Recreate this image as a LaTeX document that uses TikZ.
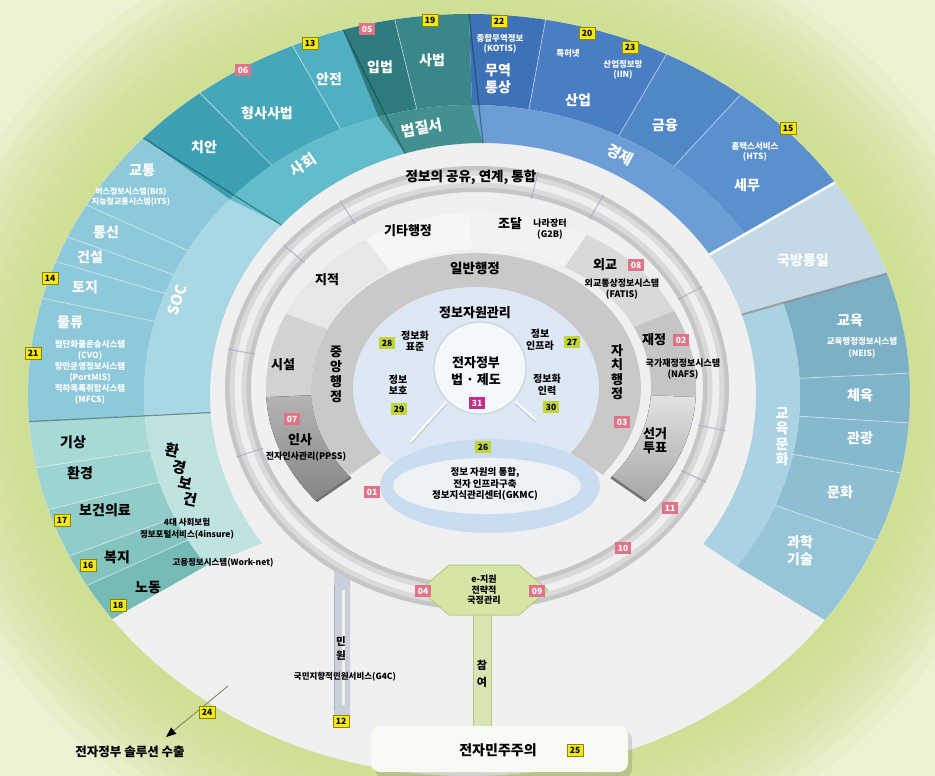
\documentclass[tikz,border=0pt]{standalone}
\usepackage{fontspec}
\setmainfont{Noto Sans CJK KR}
\usetikzlibrary{arrows.meta}

\definecolor{bgpale}{HTML}{EDF2D4}
\definecolor{bgglow}{HTML}{C9DB84}
\definecolor{diskgray}{HTML}{F0F0F0}
\definecolor{soc1}{HTML}{3C9FB2}
\definecolor{soc2}{HTML}{45A7B9}
\definecolor{soc3}{HTML}{50AFC1}
\definecolor{socband}{HTML}{62BCCB}
\definecolor{law1}{HTML}{2E7B7D}
\definecolor{law2}{HTML}{398789}
\definecolor{lawband}{HTML}{42908F}
\definecolor{eco1}{HTML}{3E72B6}
\definecolor{eco2}{HTML}{4A7EC2}
\definecolor{eco3}{HTML}{5087C7}
\definecolor{eco4}{HTML}{5A90CD}
\definecolor{ecoband}{HTML}{6C9DD5}
\definecolor{defc}{HTML}{C4D8E6}
\definecolor{edu1}{HTML}{7BB0C7}
\definecolor{edu2}{HTML}{80B4CA}
\definecolor{edu3}{HTML}{86B9CE}
\definecolor{edu4}{HTML}{8DBED2}
\definecolor{edu5}{HTML}{97C5D8}
\definecolor{eduband}{HTML}{AAD2E2}
\definecolor{infra}{HTML}{8DC9DA}
\definecolor{infraband}{HTML}{A9D8E5}
\definecolor{env1}{HTML}{A7D9D7}
\definecolor{env2}{HTML}{9DD3D0}
\definecolor{env3}{HTML}{91CCC8}
\definecolor{env4}{HTML}{83C4BF}
\definecolor{env5}{HTML}{75BBB5}
\definecolor{envband}{HTML}{BFE3E1}
\definecolor{tubeA}{HTML}{C6C6C6}
\definecolor{tubeB}{HTML}{DADADA}
\definecolor{tubeC}{HTML}{EFEFEF}
\definecolor{tickc}{HTML}{A8A2C4}
\definecolor{dk1}{HTML}{F6F6F6}
\definecolor{dk2}{HTML}{F2F2F2}
\definecolor{dk3}{HTML}{E7E7E7}
\definecolor{dk4}{HTML}{D2D2D2}
\definecolor{dk5a}{HTML}{B4B4B4}
\definecolor{dk5b}{HTML}{858585}
\definecolor{dk6}{HTML}{D9D9D9}
\definecolor{dk7}{HTML}{C5C5C5}
\definecolor{dk8a}{HTML}{E2E2E2}
\definecolor{dk8b}{HTML}{A5A5A5}
\definecolor{ringg}{HTML}{C9C9C9}
\definecolor{bluedisk}{HTML}{DCE8F4}
\definecolor{gkmcring}{HTML}{CADDF0}
\definecolor{gkmcin}{HTML}{EEF1F5}
\definecolor{centerc}{HTML}{F5F8FB}
\definecolor{centeredge}{HTML}{C3CEDA}
\definecolor{hexc}{HTML}{D5E5A5}
\definecolor{hexedge}{HTML}{B9CB84}
\definecolor{stemgray}{HTML}{CAD0D9}
\definecolor{stemedge}{HTML}{A6AEBA}
\definecolor{stemgreen}{HTML}{D8E5B3}
\definecolor{stemgedge}{HTML}{B4C58C}
\definecolor{boxc}{HTML}{FAFAF4}
\definecolor{arrowc}{HTML}{7F8C5C}
\definecolor{badgepink}{HTML}{E07486}
\definecolor{badgeyel}{HTML}{F4E817}
\definecolor{badgeyeledge}{HTML}{8F8300}
\definecolor{badgegrn}{HTML}{C3D43A}
\definecolor{badgemag}{HTML}{C22F86}

% annular piece between two ellipses (centre x, x radius, y radius each), centre y = 395
\newcommand\ringsec[9]{\fill[#1] plot[domain=#2:#3,samples=36] ({#4+#5*cos(\x)},{395-#6*sin(\x)}) -- plot[domain=#3:#2,samples=36] ({#7+#8*cos(\x)},{395-#9*sin(\x)}) -- cycle;}
\newcommand\itemsec[3]{\ringsec{#1}{#2}{#3}{469}{441}{381}{472}{328}{290}}
\newcommand\catsec[3]{\ringsec{#1}{#2}{#3}{472}{328}{290}{483}{273}{252}}
\newcommand\wholesec[3]{\ringsec{#1}{#2}{#3}{469}{441}{381}{483}{273}{252}}
\newcommand\radline[8]{\draw[#1] ({#3+#4*cos(#2)},{395-#5*sin(#2)}) -- ({#6+#7*cos(#2)},{395-#8*sin(#2)});}
\newcommand\itemline[2]{\radline{#1}{#2}{469}{441}{381}{472}{328}{290}}
\newcommand\catline[2]{\radline{#1}{#2}{469}{441}{381}{483}{273}{252}}
% department ring pieces
\newcommand\deptsec[3]{\fill[#1] plot[domain=#2:#3,samples=30] ({481+215*cos(\x)},{388-176*sin(\x)}) -- plot[domain=#3:#2,samples=30] ({481+170*cos(\x)},{388-139*sin(\x)}) -- cycle;}
\newcommand\tubetick[1]{\draw[tickc, line width=0.9pt, opacity=0.8] ({477+225*cos(#1)},{388-195*sin(#1)}) -- ({477+253*cos(#1)},{388-223*sin(#1)});}

\tikzset{
  wl/.style={text=white, font=\bfseries\fontsize{14}{17}\selectfont, inner sep=0pt, align=center},
  catw/.style={text=white, font=\bfseries\fontsize{15}{17}\selectfont, inner sep=0pt},
  bl/.style={text=black, font=\bfseries\fontsize{13}{15}\selectfont, inner sep=0pt, align=center},
  smw/.style={text=white, font=\bfseries\fontsize{8.5}{10.5}\selectfont, inner sep=0pt, align=center},
  smb/.style={text=black, font=\bfseries\fontsize{9}{11.5}\selectfont, inner sep=0pt, align=center},
  badge/.style={inner sep=0pt, minimum width=16pt, minimum height=12pt, font=\bfseries\fontsize{8.5}{8.5}\selectfont},
  pk/.style={badge, fill=badgepink, text=white},
  yb/.style={badge, fill=badgeyel, text=black, draw=badgeyeledge, line width=0.6pt},
  gb/.style={badge, fill=badgegrn, text=black},
  mb/.style={badge, fill=badgemag, text=white},
  itemsepline/.style={white, opacity=0.5, line width=0.8pt},
  catsepline/.style={black!60!teal, opacity=0.45, line width=1.2pt}
}

\begin{document}
\begin{tikzpicture}[x=1pt,y=-1pt]
\useasboundingbox (0,0) rectangle (935,776);

% backdrop with a soft green glow round the wheel
\fill[bgpale] (0,0) rectangle (935,776);
\foreach \d in {110,96,84,72,60,48,36,24,12}
  \fill[bgglow, opacity=0.14] (469,395) ellipse[x radius={(441+\d)*1pt}, y radius={(381+\d)*1pt}];
\fill[diskgray] (469,395) ellipse[x radius=441pt, y radius=381pt];

% outer wheel: society, law, economy, defence, education, infrastructure, environment
\itemsec{soc1}{127.6}{137.6}
\itemsec{soc2}{113.6}{127.6}
\itemsec{soc3}{106.6}{113.6}
\catsec{socband}{106.6}{137.6}
\itemsec{law1}{99.7}{106.6}
\itemsec{law2}{90}{99.7}
\catsec{lawband}{90}{106.6}
\itemsec{eco1}{80}{90}
\itemsec{eco2}{63.4}{80}
\itemsec{eco3}{52}{63.4}
\itemsec{eco4}{33.9}{52}
\catsec{ecoband}{33.9}{90}
\wholesec{defc}{18.6}{33.9}
\itemsec{edu1}{3.3}{18.6}
\itemsec{edu2}{-4.2}{3.3}
\itemsec{edu3}{-11.8}{-4.2}
\itemsec{edu4}{-22.4}{-11.8}
\itemsec{edu5}{-36.2}{-22.4}
\catsec{eduband}{-36.2}{18.6}
\itemsec{infra}{137.6}{184}
\catsec{infraband}{137.6}{184}
\itemsec{env1}{184}{191}
\itemsec{env2}{191}{197.5}
\itemsec{env3}{197.5}{205}
\itemsec{env4}{205}{210}
\itemsec{env5}{210}{216}
\catsec{envband}{184}{216}

% separators
\foreach \a in {113.6,127.6,99.7,80,63.4,52,3.3,-4.2,-11.8,-22.4,150.1,155.5,159.5,165.3,191,197.5,205,210}
  {\itemline{itemsepline}{\a}}
\foreach \a in {137.6,106.6,90,184}
  {\catline{catsepline}{\a}}
\catline{white, line width=2.5pt}{33.9}
\catline{black!45, line width=2pt, opacity=0.7}{18.6}

% stems below the tube
\fill[stemgray, rounded corners=6pt] (334,560) rectangle (350,718);
\draw[stemedge, line width=1pt] (334.5,585) -- (334.5,710);
\draw[white, line width=3pt, opacity=0.7] (343,590) -- (343,705);
\fill[stemgreen] (473,600) rectangle (492,730);
\draw[stemgedge, line width=1pt] (473.5,615) -- (473.5,728) (491.5,615) -- (491.5,728);

% tube ring
\draw[line width=26pt, tubeA] (477,388) ellipse[x radius=239pt, y radius=209pt];
\draw[line width=17pt, tubeB] (477,388) ellipse[x radius=239pt, y radius=209pt];
\draw[line width=7pt, tubeC] (477,388) ellipse[x radius=239pt, y radius=209pt];
\foreach \a in {122.8,140,170,198,76,60,27,-11,-25}
  {\tubetick{\a}}

% green hexagon on the tube
\draw[fill=hexc, draw=hexedge, line width=1pt] (449,565) -- (519,565) -- (548,590) -- (519,615) -- (449,615) -- (420,590) -- cycle;

% department ring
\deptsec{dk1}{93}{122.5}
\deptsec{dk3}{122.5}{155}
\deptsec{dk4}{155}{183}
\deptsec{top color=dk5a, bottom color=dk5b}{183}{220}
\deptsec{dk2}{60.5}{93}
\deptsec{dk6}{26}{60.5}
\deptsec{dk7}{-3}{26}
\deptsec{top color=dk8a, bottom color=dk8b}{-40}{-3}
\draw[black!55, line width=2.5pt] ({481+215*cos(220)},{388-176*sin(220)}) -- ({481+170*cos(220)},{388-139*sin(220)});
\draw[black!55, line width=2.5pt] ({481+215*cos(-40)},{388-176*sin(-40)}) -- ({481+170*cos(-40)},{388-139*sin(-40)});

% general administration ring
\fill[ringg] plot[domain=-40:220,samples=60] ({476+165*cos(\x)},{388-135*sin(\x)}) -- plot[domain=220:-40,samples=60] ({476+122*cos(\x)},{388-100*sin(\x)}) -- cycle;

% information resources core
\fill[bluedisk] (476,388) ellipse[x radius=123pt, y radius=101pt];
\fill[gkmcring] (490,486) ellipse[x radius=110pt, y radius=47pt];
\fill[gkmcin] (487,486) ellipse[x radius=94pt, y radius=28pt];
\draw[fill=centerc, draw=centeredge, line width=1pt] (480,368) ellipse[x radius=46pt, y radius=46pt];
\draw[centeredge, line width=3.5pt] (446,403) -- (410,443);
\draw[white, line width=2pt] (446,402) -- (410,442);
\draw[centeredge, line width=3.5pt] (516,403) -- (536,421);
\draw[white, line width=2pt] (516,402) -- (536,420);

% e-democracy box
\fill[black, opacity=0.12, rounded corners=9pt] (375,731) rectangle (632,778);
\fill[boxc, rounded corners=9pt] (371,726) rectangle (628,772);

% solution export arrow
\coordinate (exportstart) at (228,686);
\coordinate (exporttip) at (166,737);
\draw[arrowc, line width=0.9pt, -{Triangle[length=10pt,width=8pt,color=black]}] (exportstart) -- (exporttip);

% ---- outer wheel texts
\node[wl] (tchian) at (204,147) {치안};
\node[wl] (thyeong) at (267,113) {형사사법};
\node[wl] (tanjeon) at (329,79) {안전};
\node[wl] (tipbeop) at (380,67) {입법};
\node[wl] (tsabeop) at (432,60) {사법};
\node[wl] (tmuyeok) at (498,79) {무역\\통상};
\node[wl] (tsaneop) at (578,100) {산업};
\node[wl] (tgeumyung) at (665,125) {금융};
\node[wl] (tsemu) at (747,185) {세무};
\node[wl] (tgukbang) at (803,260) {국방통일};
\node[wl] (tgyoyuk) at (850,320) {교육};
\node[wl] (tcheyuk) at (860,395) {체육};
\node[wl] (tgwangwang) at (860,438) {관광};
\node[wl] (tmunhwa) at (840,492) {문화};
\node[wl] (tgwahak) at (800,551) {과학\\기술};
\node[wl] (tgyotong) at (142,170) {교통};
\node[wl] (ttongsin) at (106,232) {통신};
\node[wl] (tgeonseol) at (90,257) {건설};
\node[wl] (ttoji) at (85,287) {토지};
\node[wl] (tmulryu) at (70,322) {물류};
\node[wl, text=black] (tgisang) at (73,442) {기상};
\node[wl, text=black] (thwangyeong) at (80,473) {환경};
\node[wl, text=black] (tbogeon) at (105,510) {보건의료};
\node[wl, text=black] (tbokji) at (117,557) {복지};
\node[wl, text=black] (tnodong) at (148,588) {노동};

\node[smw, font=\bfseries\fontsize{8}{9.5}\selectfont] (tbis) at (131,197) {버스정보시스템(BIS)\\지능형교통시스템(ITS)};
\node[smw, font=\bfseries\fontsize{8.5}{11}\selectfont] (tcvo) at (90,372) {첨단화물운송시스템\\(CVO)\\항만운영정보시스템\\(PortMIS)\\적하목록취합시스템\\(MFCS)};
\node[smw] (tkotis) at (500,44) {종합무역정보\\(KOTIS)};
\node[smw] (tpatent) at (568,53) {특허넷};
\node[smw] (tiin) at (623,70) {산업정보망\\(IIN)};
\node[smw] (thts) at (755,152) {홈택스서비스\\(HTS)};
\node[smw, font=\bfseries\fontsize{8.5}{12.5}\selectfont] (tneis) at (862,348) {교육행정정보시스템\\(NEIS)};
\node[smb, font=\bfseries\fontsize{8.5}{12}\selectfont] (tinsure) at (187,529) {4대 사회보험\\정보포털서비스(4insure)};
\node[smb, font=\bfseries\fontsize{8.5}{12}\selectfont] (tworknet) at (223,563) {고용정보시스템(Work-net)};

% category labels
\node[catw, rotate=34] (csoc) at (303,165) {사회};
\node[catw, rotate=10] (claw) at (422,128) {법질서};
\node[catw, rotate=-28] (ceco) at (620,155) {경제};
\node[catw, rotate=72] (cinfra) at (177,300) {SOC};
\node[catw, align=center, font=\bfseries\fontsize{14}{15.5}\selectfont] (cedu) at (782,437) {교\\육\\문\\화};
\node[catw, text=black, rotate=-12] (cenv1) at (172,450) {환};
\node[catw, text=black, rotate=-12] (cenv2) at (179,467) {경};
\node[catw, text=black, rotate=-12] (cenv3) at (185,483) {보};
\node[catw, text=black, rotate=-12] (cenv4) at (190,499) {건};

% tube text
\node[bl, font=\bfseries\fontsize{13.5}{15}\selectfont] (tshare) at (471,177) {정보의 공유, 연계, 통합};

% department ring texts
\node[bl] (tgita) at (408,231) {기타행정};
\node[bl] (tjijeok) at (327,280) {지적};
\node[bl] (tsiseol) at (283,365) {시설};
\node[bl] (tinsa) at (300,440) {인사};
\node[smb] (tppss) at (306,457) {전자인사관리(PPSS)};
\node[bl] (tjodal) at (510,224) {조달};
\node[smb, font=\bfseries\fontsize{9}{11}\selectfont] (tg2b) at (550,229) {나라장터\\(G2B)};
\node[bl] (toegyo) at (605,265) {외교};
\node[smb] (tfatis) at (622,289) {외교통상정보시스템\\(FATIS)};
\node[bl] (tjaejeong) at (654,340) {재정};
\node[smb] (tnafs) at (683,369) {국가재정정보시스템\\(NAFS)};
\node[bl, font=\bfseries\fontsize{13}{14}\selectfont] (tseongeo) at (655,441) {선거\\투표};

% general administration texts
\node[bl, font=\bfseries\fontsize{13.5}{15}\selectfont] (tilban) at (475,268) {일반행정};
\node[bl, font=\bfseries\fontsize{13}{15}\selectfont] (tjungang) at (336,374) {중\\앙\\행\\정};
\node[bl, font=\bfseries\fontsize{13}{14.5}\selectfont] (tjachi) at (617,372) {자\\치\\행\\정};

% core texts
\node[bl, font=\bfseries\fontsize{13}{15}\selectfont] (tjawon) at (475,313) {정보자원관리};
\node[smb, font=\bfseries\fontsize{10}{11.5}\selectfont] (tpyojun) at (415,341) {정보화\\표준};
\node[smb, font=\bfseries\fontsize{10}{11.5}\selectfont] (tboho) at (398,385) {정보\\보호};
\node[smb, font=\bfseries\fontsize{10}{11.5}\selectfont] (tinfra) at (540,340) {정보\\인프라};
\node[smb, font=\bfseries\fontsize{10}{11.5}\selectfont] (tinryeok) at (547,385) {정보화\\인력};
\node[bl, font=\bfseries\fontsize{13}{17}\selectfont] (tlaw) at (476,371) {전자정부\\법 · 제도};
\node[smb, font=\bfseries\fontsize{9.5}{11.5}\selectfont] (tgkmc) at (485,484) {정보 자원의 통합,\\전자 인프라구축\\정보지식관리센터(GKMC)};
\node[smb, font=\bfseries\fontsize{9}{10.5}\selectfont] (tesupport) at (484,590) {e-지원\\전략적\\국정관리};

% lower texts
\node[smb, font=\bfseries\fontsize{10.5}{14}\selectfont] (tminwon) at (341,648) {민\\원};
\node[smb, font=\bfseries\fontsize{8.5}{10}\selectfont] (tg4c) at (345,677) {국민지향적민원서비스(G4C)};
\node[smb, font=\bfseries\fontsize{11}{17}\selectfont] (tchamyeo) at (482,674) {참\\여};
\node[bl, font=\bfseries\fontsize{14}{16}\selectfont] (tedemo) at (498,750) {전자민주주의};
\node[bl, font=\bfseries\fontsize{12.5}{14}\selectfont] (texport) at (130,752) {전자정부 솔루션 수출};

% badges
\node[pk] (b06) at (243,70) {06};
\node[pk] (b05) at (367,29) {05};
\node[pk] (b07) at (292,419) {07};
\node[pk] (b01) at (372,492) {01};
\node[pk] (b08) at (636,265) {08};
\node[pk] (b02) at (681,340) {02};
\node[pk] (b03) at (622,422) {03};
\node[pk] (b11) at (670,508) {11};
\node[pk] (b10) at (623,548) {10};
\node[pk] (b04) at (423,591) {04};
\node[pk] (b09) at (537,591) {09};
\node[yb] (b13) at (310,43) {13};
\node[yb] (b19) at (430,20) {19};
\node[yb] (b22) at (499,21) {22};
\node[yb] (b20) at (587,33) {20};
\node[yb] (b23) at (630,47) {23};
\node[yb] (b15) at (788,128) {15};
\node[yb] (b14) at (50,278) {14};
\node[yb] (b21) at (33,353) {21};
\node[yb] (b17) at (62,520) {17};
\node[yb] (b16) at (88,565) {16};
\node[yb] (b18) at (118,605) {18};
\node[yb] (b24) at (207,712) {24};
\node[yb] (b12) at (341,721) {12};
\node[yb] (b25) at (575,750) {25};
\node[gb] (b28) at (387,343) {28};
\node[gb] (b29) at (399,409) {29};
\node[gb] (b27) at (572,342) {27};
\node[gb] (b30) at (551,407) {30};
\node[gb] (b26) at (483,447) {26};
\node[mb] (b31) at (477,403) {31};
\end{tikzpicture}
\end{document}
